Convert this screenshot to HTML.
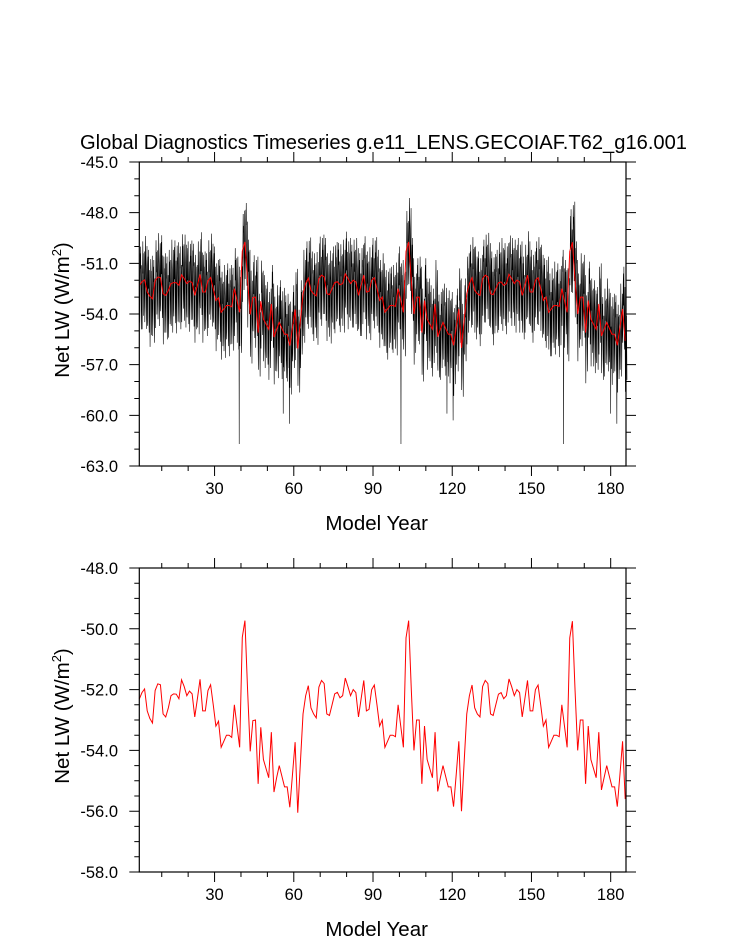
<!DOCTYPE html>
<html><head><meta charset="utf-8"><style>
body{margin:0;background:#fff;}
svg text{font-family:"Liberation Sans",Arial,sans-serif;fill:#000;}
</style></head><body>
<svg id="c" width="733" height="945" viewBox="0 0 733 945" xmlns="http://www.w3.org/2000/svg">
<text x="80" y="149" font-size="20" textLength="607" lengthAdjust="spacingAndGlyphs">Global Diagnostics Timeseries g.e11_LENS.GECOIAF.T62_g16.001</text>
</svg>
<script>
// annual mean Net LW (W/m2), years at t = 1.5 + i
const annual = [
-52.31,-52.1,-51.98,-52.7,-52.95,-53.1,-52.03,-51.81,-51.84,-52.8,-52.9,-52.6,-52.2,-52.14,-52.15,-52.3,-51.68,-51.9,-52.2,-52.05,-52.14,-52.9,-52.3,-51.66,-52.7,-52.7,-52.03,-51.84,-52.5,-53.2,-53.04,-53.9,-53.7,-53.5,-53.5,-53.57,-52.5,-53.2,-53.9,-50.28,-49.73,-52.0,-54.03,-53.02,-53.0,-55.1,-53.24,-54.3,-54.6,-54.9,-53.4,-55.37,-54.9,-54.5,-54.85,-55.2,-55.2,-55.87,-54.8,-53.73,-56.05,-54.4,
-52.8,-52.2,-51.87,-52.6,-52.8,-52.93,-51.92,-51.7,-51.8,-52.8,-52.85,-52.5,-52.14,-52.09,-52.27,-52.2,-51.62,-51.9,-52.2,-52.0,-52.1,-52.9,-52.3,-51.7,-52.7,-52.65,-52.0,-51.85,-52.5,-53.2,-53.0,-53.9,-53.7,-53.5,-53.5,-53.55,-52.5,-53.2,-53.9,-50.3,-49.73,-52.0,-54.0,-53.0,-53.0,-55.1,-53.2,-54.3,-54.6,-54.9,-53.4,-55.35,-54.9,-54.5,-54.85,-55.2,-55.2,-55.85,-54.8,-53.7,-56.0,-54.4,
-52.8,-52.2,-51.85,-52.6,-52.8,-52.9,-51.9,-51.7,-51.8,-52.8,-52.85,-52.5,-52.15,-52.1,-52.3,-52.2,-51.65,-51.9,-52.2,-52.0,-52.1,-52.9,-52.3,-51.7,-52.7,-52.7,-52.0,-51.85,-52.5,-53.2,-53.0,-53.9,-53.7,-53.5,-53.5,-53.55,-52.5,-53.2,-53.9,-50.3,-49.75,-52.0,-54.0,-53.0,-53.0,-55.1,-53.2,-54.3,-54.6,-54.9,-53.4,-55.3,-54.9,-54.5,-54.85,-55.2,-55.2,-55.85,-54.8,-53.7,-55.6
];
// monthly deviations from the annual mean (W/m2), 5 years of seasonal cycles
const monthlyDev = [
-0.8,-2.2,-1.1,0.4,1.9,1.0,2.3,0.6,-1.5,-2.6,-0.4,1.2,
-1.2,-2.8,-0.6,1.1,2.4,0.5,1.7,-0.2,-2.0,-1.4,0.3,1.8,
-0.5,-2.5,-1.6,0.9,2.6,1.4,0.8,-0.9,-2.9,-0.7,0.6,2.0,
-1.6,-2.0,-0.3,1.6,2.1,0.2,2.5,0.1,-1.8,-2.4,-0.1,1.3,
-0.9,-3.0,-1.0,0.7,2.2,1.1,1.5,-0.5,-2.3,-1.1,0.9,2.4];
// isolated monthly spikes [year, value]
const spikeYears = [39.3,56.0,58.3,100.6,118.0,120.3,162.2,180.0,182.3];
const spikeVals = [-61.7,-59.9,-60.5,-61.7,-59.9,-60.3,-61.7,-59.9,-60.5];
const xTicks = [30,60,90,120,150,180];
const yTicksTop = [-45,-48,-51,-54,-57,-60,-63];
const yTicksBot = [-48,-50,-52,-54,-56,-58];

const NS='http://www.w3.org/2000/svg';
const svg=document.getElementById('c');
const X0=139.3,X1=626,T0=1.5,T1=185.8;
function sx(t){return X0+(t-T0)/(T1-T0)*(X1-X0);}
function mk(tag,attrs){const e=document.createElementNS(NS,tag);for(const k in attrs)e.setAttribute(k,attrs[k]);svg.appendChild(e);return e;}

function panel(name,top,bot,vmax,vmin,yTicks,minorStep,withMonthly){
  const sy=v=>top+(vmax-v)/(vmax-vmin)*(bot-top);
  if(withMonthly){
    let d='';
    const n=annual.length*12-3;
    const pts=[];
    for(let j=0;j<n;j++){pts.push([T0+j/12,annual[Math.floor(j/12)]+monthlyDev[j%monthlyDev.length]]);}
    for(let k=0;k<spikeYears.length;k++){
      const j=Math.round((spikeYears[k]-T0)*12);
      if(j>=0&&j<pts.length)pts[j][1]=spikeVals[k];
    }
    pts.forEach((p,i)=>{d+=(i?'L':'M')+sx(p[0]).toFixed(2)+','+sy(p[1]).toFixed(2);});
    const m=mk('path',{d:d,fill:'none',stroke:'#000','stroke-width':0.6});
    
    
  }
  let d='';
  annual.forEach((v,i)=>{d+=(i?'L':'M')+sx(T0+i).toFixed(2)+','+sy(v).toFixed(2);});
  const a=mk('path',{d:d,fill:'none',stroke:'#f00','stroke-width':1});
  
  
  const f=mk('rect',{x:X0,y:top,width:X1-X0,height:bot-top,fill:'none',stroke:'#000','stroke-width':1.2});
  
  
  let td='';
  for(let t=10;t<T1;t+=10){const x=sx(t);const L=(t%30===0)?10:5;td+=`M${x},${bot}v${L}M${x},${top}v${-L}`;}
  for(let v=vmin;v<=vmax+1e-6;v+=minorStep){const y=sy(v);const maj=yTicks.some(q=>Math.abs(q-v)<1e-6);const L=maj?10:5;td+=`M${X0},${y}h${-L}M${X1},${y}h${L}`;}
  const tk=mk('path',{d:td,stroke:'#000','stroke-width':1,fill:'none'});
  
  
  xTicks.forEach(t=>{const e=mk('text',{x:sx(t),y:bot+28,'font-size':16.5,'text-anchor':'middle'});e.textContent=t;
    
    });
  yTicks.forEach(v=>{const e=mk('text',{x:118,y:sy(v)+6,'font-size':16.5,'text-anchor':'end'});e.textContent=v.toFixed(1);
    
    });
  const xt=mk('text',{x:(X0+X1)/2-6,y:bot+64,'font-size':20.5,'text-anchor':'middle'});xt.textContent='Model Year';
  
  
  const cy=(top+bot)/2-4;
  const yt=mk('text',{x:0,y:0,'font-size':20.5,'text-anchor':'middle',transform:`translate(69,${cy}) rotate(-90)`});
  yt.innerHTML='Net LW (W/m<tspan dy="-8" font-size="13">2</tspan><tspan dy="8">)</tspan>';
  
  
}
panel('top-panel',162,466,-45,-63,yTicksTop,1,true);
panel('bottom-panel',568,872,-48,-58,yTicksBot,0.5,false);
</script>
</body></html>
